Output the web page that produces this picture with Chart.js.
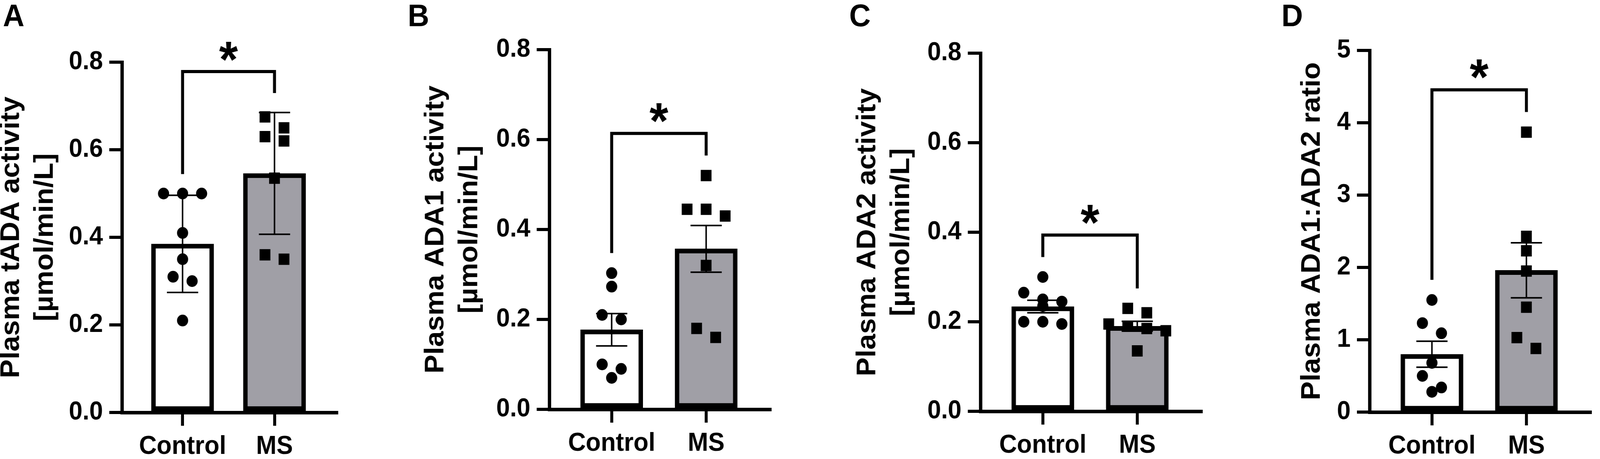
<!DOCTYPE html>
<html>
<head>
<meta charset="utf-8">
<script src="https://cdn.jsdelivr.net/npm/chart.js@4.4.1/dist/chart.umd.min.js"></script>
<style>
    html, body { margin: 0; padding: 0; background: #fff; overflow: hidden; }
    #lienzo { position: absolute; left: 0; top: 0; width: 4305px; height: 1174px; transform-origin: 0 0; background: #fff; }
    .panel { position: absolute; top: 0; height: 1174px; }
    .letra { position: absolute; top: 0; font: bold 80px 'Liberation Sans', Arial, sans-serif; line-height: 80px; color: #000; }
</style>
</head>
<body>
<div id="lienzo">
    <div class="letra" style="left:8px">A</div>
    <div class="letra" style="left:1097px">B</div>
    <div class="letra" style="left:2285px">C</div>
    <div class="letra" style="left:3448px">D</div>

    <div class="panel" id="panelA"><canvas id="graficoA"></canvas></div>
    <div class="panel" id="panelB"><canvas id="graficoB"></canvas></div>
    <div class="panel" id="panelC"><canvas id="graficoC"></canvas></div>
    <div class="panel" id="panelD"><canvas id="graficoD"></canvas></div>
</div>

<script>
const grupos = ['Control', 'MS'];

const ticksActividad = [0, 0.2, 0.4, 0.6, 0.8];
const ticksRatio = [0, 1, 2, 3, 4, 5];

// A: tADA, media ± DE
const tadaControl = [0.50, 0.50, 0.50, 0.41, 0.35, 0.31, 0.30, 0.21];
const tadaMS = [0.675, 0.65, 0.63, 0.62, 0.535, 0.36, 0.35];
const tadaMedia = [0.385, 0.546];
const tadaError = [0.111, 0.139];

// B: ADA1, media ± EEM
const ada1Control = [0.303, 0.273, 0.21, 0.20, 0.10, 0.09, 0.07];
const ada1MS = [0.52, 0.445, 0.445, 0.43, 0.32, 0.18, 0.16];
const ada1Media = [0.177, 0.357];
const ada1Error = [0.036, 0.052];

// C: ADA2, media ± EEM
const ada2Control = [0.30, 0.265, 0.25, 0.245, 0.235, 0.20, 0.20, 0.195];
const ada2MS = [0.23, 0.22, 0.195, 0.19, 0.185, 0.18, 0.135];
const ada2Media = [0.234, 0.19];
const ada2Error = [0.014, 0.011];

// D: ADA1:ADA2, media ± EEM
const ratioControl = [1.55, 1.23, 1.09, 0.68, 0.50, 0.34, 0.28];
const ratioMS = [3.87, 2.43, 2.23, 1.95, 1.45, 1.03, 0.88];
const ratioMedia = [0.80, 1.96];
const ratioError = [0.18, 0.38];

const ANCHO = 4305;
const ALTO = 1174;
const X_MIN = -0.66;
const X_MAX = 1.675;
const GRIS = '#a09fa6';
const FAMILIA = "'Liberation Sans', Arial, sans-serif";
const fuenteTicks = { family: FAMILIA, size: 66, weight: 'bold', lineHeight: 1.2 };
const fuenteTitulo = { family: FAMILIA, size: 72, weight: 'bold', lineHeight: 1.264 };

// si la ventana no mide 4305x1174 se estira todo para llenarla
const escalaX = (window.innerWidth / ANCHO) || 1;
const escalaY = (window.innerHeight / ALTO) || 1;
if (Math.abs(escalaX - 1) > 0.002 || Math.abs(escalaY - 1) > 0.002) {
    document.getElementById('lienzo').style.transform = 'scale(' + escalaX + ',' + escalaY + ')';
}

// reparte los puntos que se pisan, como un beeswarm simple
function Enjambre(valores, grupo, pxPorUnidadY, paso) {
    const orden = valores.slice().sort((a, b) => b - a);
    const puntos = [];
    let k = 0;
    while (k < orden.length) {
        let j = k + 1;
        while (j < orden.length && (orden[k] - orden[j]) * pxPorUnidadY < 30) j++;
        const n = j - k;
        for (let m = 0; m < n; m++) {
            puntos.push({ x: grupo + (m - (n - 1) / 2) * paso, y: orden[k + m] });
        }
        k = j;
    }
    return puntos;
}

function PluginExtras(medias, errores, control, ms, rango) {
    return {
        id: 'extras',
        afterDatasetDraw(chart, args) {
            if (args.index !== 0) return;
            const { ctx } = chart;
            const x = chart.scales.x, y = chart.scales.y;
            ctx.save();
            ctx.strokeStyle = '#000';
            ctx.lineWidth = 4;
            medias.forEach((m, i) => {
                const px = x.getPixelForValue(i);
                const yA = y.getPixelForValue(m + errores[i]);
                const yB = y.getPixelForValue(m - errores[i]);
                ctx.beginPath();
                ctx.moveTo(px, yA); ctx.lineTo(px, yB);
                ctx.moveTo(px - 42, yA); ctx.lineTo(px + 42, yA);
                ctx.moveTo(px - 42, yB); ctx.lineTo(px + 42, yB);
                ctx.stroke();
            });
            ctx.restore();
        },
        afterDraw(chart) {
            const { ctx } = chart;
            const x = chart.scales.x, y = chart.scales.y;
            const maxC = Math.max(...control, medias[0] + errores[0]);
            const maxM = Math.max(...ms, medias[1] + errores[1]);
            const nivel = Math.max(maxC, maxM) + 0.117 * rango;
            const x0 = x.getPixelForValue(0), x1 = x.getPixelForValue(1);
            const yN = y.getPixelForValue(nivel);
            ctx.save();
            ctx.strokeStyle = '#000';
            ctx.lineWidth = 8;
            ctx.lineCap = 'square';
            ctx.beginPath();
            ctx.moveTo(x0, y.getPixelForValue(maxC + 0.06 * rango));
            ctx.lineTo(x0, yN);
            ctx.lineTo(x1, yN);
            ctx.lineTo(x1, y.getPixelForValue(maxM + 0.06 * rango));
            ctx.stroke();

            ctx.fillStyle = '#000';
            ctx.font = 'bold 130px ' + FAMILIA;
            ctx.textAlign = 'center';
            ctx.textBaseline = 'alphabetic';
            const med = ctx.measureText('*');
            const cy = y.getPixelForValue(nivel + 0.058 * rango);
            const base = cy + (med.actualBoundingBoxAscent - med.actualBoundingBoxDescent) / 2;
            ctx.fillText('*', (x0 + x1) / 2, base);
            ctx.restore();
        }
    };
}

function GraficoPanel(idPanel, idCanvas, caja, titulo, ticks, decimales, control, ms, medias, errores) {
    const ancho = caja.fin - caja.izq;
    const panel = document.getElementById(idPanel);
    panel.style.left = caja.izq + 'px';
    panel.style.width = ancho + 'px';
    const canvas = document.getElementById(idCanvas);
    canvas.width = ancho;
    canvas.height = ALTO;

    const rango = ticks[ticks.length - 1];
    const pxPorUnidadY = (caja.abajo - caja.arriba) / rango;
    const paso = 53 / ((caja.fin - caja.eje) / (X_MAX - X_MIN));

    const ejeComun = {
        grid: { drawOnChartArea: false, drawTicks: true, tickLength: 34, lineWidth: 8, color: '#000', offset: false },
        border: { display: true, width: 9, color: '#000' }
    };

    return new Chart(canvas.getContext('2d'), {
        type: 'bar',
        data: {
            datasets: [{
                type: 'bar',
                data: medias.map((m, i) => ({ x: i, y: m })),
                backgroundColor: ['#ffffff', GRIS],
                borderColor: '#000',
                borderWidth: 12,
                borderSkipped: false,
                barThickness: 168,
                order: 2
            }, {
                type: 'scatter',
                data: Enjambre(control, 0, pxPorUnidadY, paso),
                pointStyle: 'circle',
                pointRadius: 15,
                backgroundColor: '#000',
                borderWidth: 0,
                order: 1
            }, {
                type: 'scatter',
                data: Enjambre(ms, 1, pxPorUnidadY, paso),
                pointStyle: 'rect',
                pointRadius: 20.5,
                backgroundColor: '#000',
                borderWidth: 0,
                order: 1
            }]
        },
        options: {
            responsive: false,
            animation: false,
            events: [],
            layout: { padding: { top: caja.arriba, right: 0, bottom: 0, left: 0 } },
            plugins: {
                legend: { display: false },
                tooltip: { enabled: false }
            },
            scales: {
                x: {
                    ...ejeComun,
                    type: 'linear',
                    min: X_MIN,
                    max: X_MAX,
                    offset: false,
                    afterBuildTicks: s => { s.ticks = grupos.map((g, i) => ({ value: i })); },
                    afterFit: s => { s.height = ALTO - caja.abajo; },
                    ticks: {
                        callback: v => grupos[v],
                        font: fuenteTicks,
                        color: '#000',
                        padding: 14,
                        maxRotation: 0,
                        autoSkip: false
                    }
                },
                y: {
                    ...ejeComun,
                    type: 'linear',
                    min: 0,
                    max: rango,
                    afterBuildTicks: s => { s.ticks = ticks.map(v => ({ value: v })); },
                    afterFit: s => { s.width = caja.eje - caja.izq; },
                    ticks: {
                        callback: v => v.toFixed(decimales),
                        font: fuenteTicks,
                        color: '#000',
                        padding: 17
                    },
                    title: {
                        display: true,
                        text: titulo,
                        font: fuenteTitulo,
                        color: '#000',
                        padding: 0
                    }
                }
            }
        },
        plugins: [PluginExtras(medias, errores, control, ms, rango)]
    });
}

GraficoPanel('panelA', 'graficoA', { izq: -14, eje: 328, fin: 926, arriba: 159, abajo: 1055 },
    ['Plasma tADA activity', '[µmol/min/L]'], ticksActividad, 1, tadaControl, tadaMS, tadaMedia, tadaError);

GraficoPanel('panelB', 'graficoB', { izq: 1128, eje: 1478, fin: 2092, arriba: 127, abajo: 1047 },
    ['Plasma ADA1 activity', '[µmol/min/L]'], ticksActividad, 1, ada1Control, ada1MS, ada1Media, ada1Error);

GraficoPanel('panelC', 'graficoC', { izq: 2290, eje: 2638, fin: 3252, arriba: 136, abajo: 1052 },
    ['Plasma ADA2 activity', '[µmol/min/L]'], ticksActividad, 1, ada2Control, ada2MS, ada2Media, ada2Error);

GraficoPanel('panelD', 'graficoD', { izq: 3486, eje: 3685, fin: 4299, arriba: 129, abajo: 1054 },
    'Plasma ADA1:ADA2 ratio', ticksRatio, 0, ratioControl, ratioMS, ratioMedia, ratioError);
</script>
</body>
</html>
